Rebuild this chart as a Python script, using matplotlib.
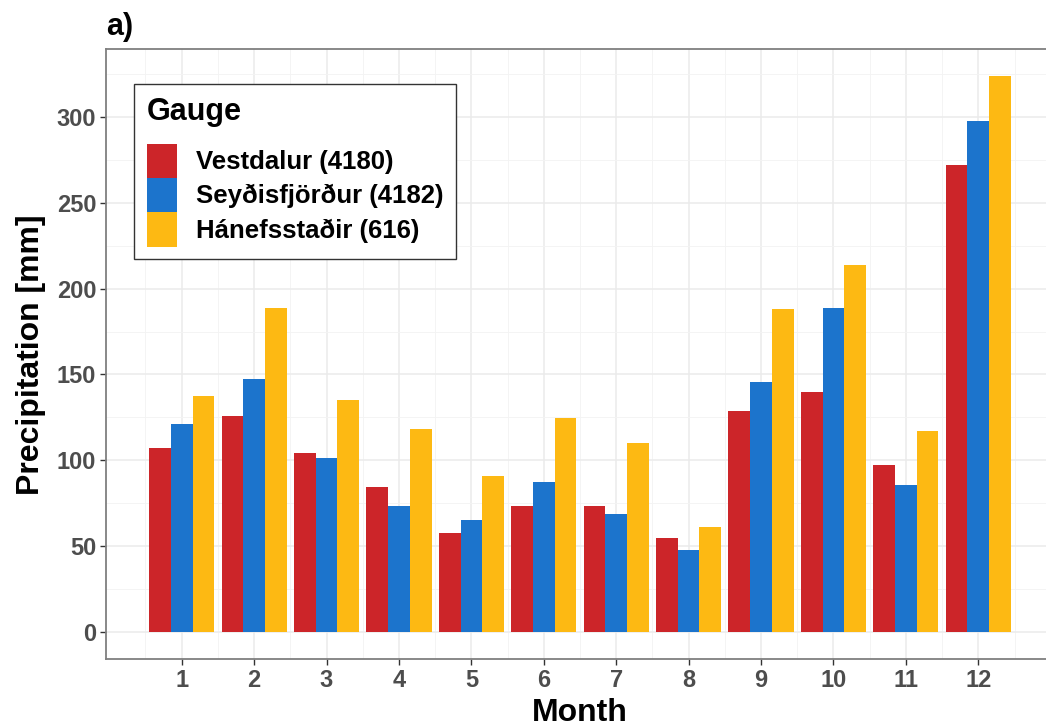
import numpy as np
import matplotlib
matplotlib.use('Agg')
import matplotlib.pyplot as plt
from matplotlib.ticker import MultipleLocator

plt.rcParams['font.family'] = ['Liberation Sans', 'DejaVu Sans']
plt.rcParams['font.weight'] = 'bold'

# Monthly precipitation [mm] at the three gauges
months = np.arange(1, 13)
vestdalur = [107.1, 125.6, 104.1, 84.7, 57.6, 73.5, 73.5, 54.9, 128.9, 139.6, 97.2, 271.7]
seydisfjordur = [121.0, 147.4, 101.6, 73.3, 65.3, 87.5, 69.0, 47.7, 145.6, 188.9, 85.7, 297.3]
hanefsstadir = [137.7, 188.6, 135.0, 118.3, 90.9, 124.5, 110.3, 61.1, 187.9, 213.5, 117.3, 323.7]

labels = ['Vestdalur (4180)', 'Seyðisfjörður (4182)', 'Hánefsstaðir (616)']
colors = ['#CC2529', '#1C74CC', '#FDB913']
series = [vestdalur, seydisfjordur, hanefsstadir]

W, H = 1046, 728
fig = plt.figure(figsize=(W / 100, H / 100), dpi=100)
# panel runs past the right edge of the figure
ax = fig.add_axes([106 / W, 1 - 659.3 / H, 948 / W, 610 / H])

width = 0.3
for i, (vals, lab, col) in enumerate(zip(series, labels, colors)):
    ax.bar(months + (i - 1) * width, vals, width=width, color=col, label=lab,
           linewidth=0, zorder=3)

ax.set_xlim(-0.045, 13.045)
ax.set_ylim(-15.7, 339.2)

ax.yaxis.set_major_locator(MultipleLocator(50))
ax.yaxis.set_minor_locator(MultipleLocator(25))
ax.set_xticks(months)
ax.set_xticks(np.arange(0.5, 13, 1), minor=True)

ax.grid(which='major', color='#EBEBEB', linewidth=1.1, zorder=0)
ax.grid(which='minor', color='#F3F3F3', linewidth=0.6, zorder=0)
ax.set_axisbelow(True)

for s in ax.spines.values():
    s.set_color('#7F7F7F')
    s.set_linewidth(1.3)

ax.tick_params(which='major', length=4, width=1, color='#333333', pad=3,
               labelsize=17, labelcolor='#4D4D4D')
ax.tick_params(which='minor', length=0)
for t in ax.get_xticklabels() + ax.get_yticklabels():
    t.set_fontweight('bold')

ax.set_xlabel('Month', fontsize=23, fontweight='bold', labelpad=4)
ax.set_ylabel('Precipitation [mm]', fontsize=23, fontweight='bold')
ax.yaxis.set_label_coords(-0.063, 0.5)

leg = ax.legend(title='Gauge', loc='upper left',
                bbox_to_anchor=(134 / W, 1 - 84 / H), bbox_transform=fig.transFigure,
                fontsize=18.5, title_fontproperties={'weight': 'bold', 'size': 22},
                handlelength=1.17, handleheight=1.68, labelspacing=0,
                handletextpad=0.74, borderpad=0.5, borderaxespad=0,
                alignment='left', fancybox=False, framealpha=1,
                edgecolor='#333333')
leg.get_frame().set_linewidth(1.0)
leg._legend_box.sep = 12
for t in leg.get_texts():
    t.set_fontweight('bold')

fig.text(106 / W, 1 - 35 / H, 'a)', fontsize=22, fontweight='bold', va='baseline')

fig.savefig('out.png', dpi=100)
